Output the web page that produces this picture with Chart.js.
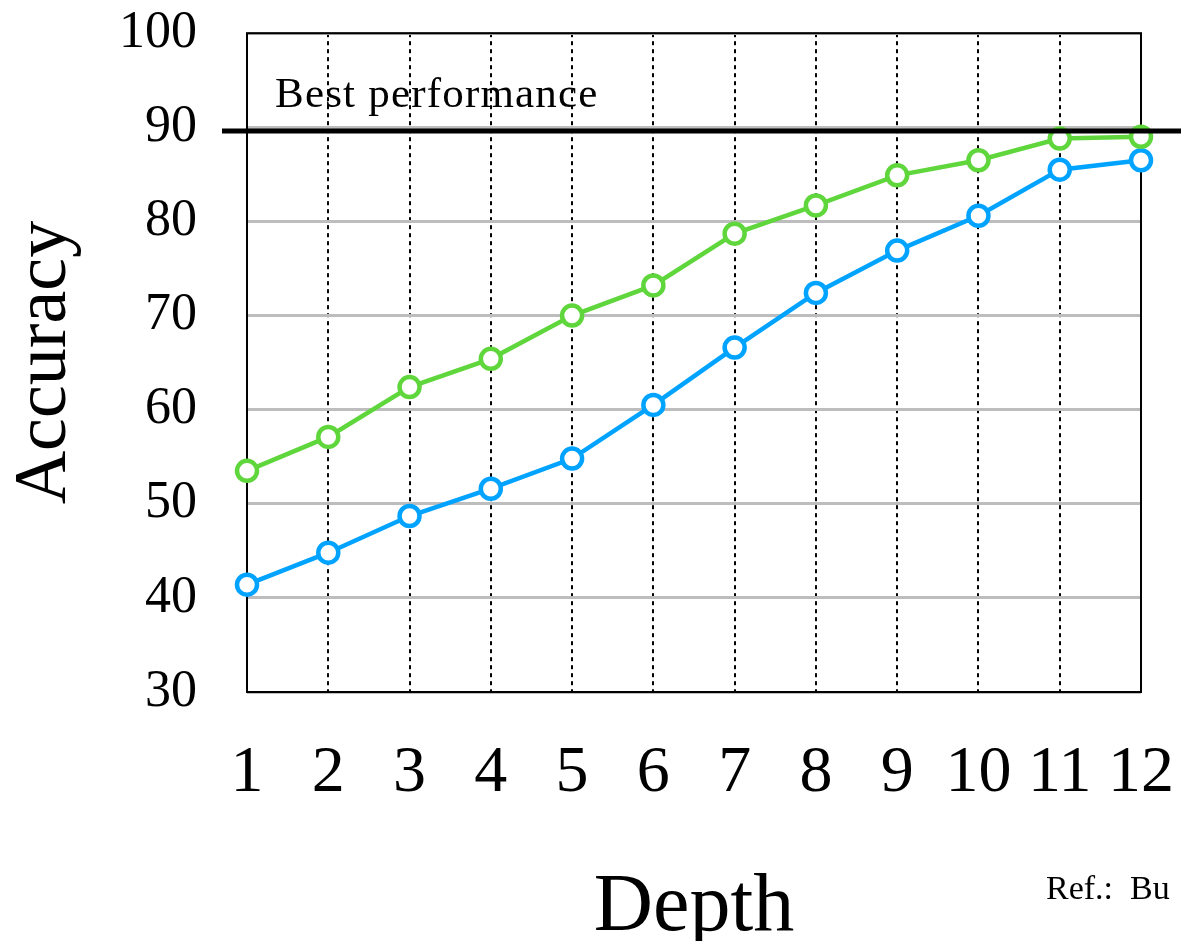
<!DOCTYPE html>
<html>
<head>
<meta charset="utf-8">
<script src="https://cdn.jsdelivr.net/npm/chart.js@4.4.1/dist/chart.umd.min.js"></script>
<style>
  html, body { margin: 0; padding: 0; background: #fff; }
  #wrap { width: 1181px; height: 941px; position: relative; }
</style>
</head>
<body>
<div id="wrap"><canvas id="accChart"></canvas></div>
<script>
// --- data ---
const DEPTHS = ["1", "2", "3", "4", "5", "6", "7", "8", "9", "10", "11", "12"];
const GREEN_ACC = [53.5, 57.1, 62.4, 65.4, 70.0, 73.2, 78.7, 81.7, 84.9, 86.5, 88.8, 89.0];
const BLUE_ACC = [41.4, 44.8, 48.7, 51.6, 54.8, 60.5, 66.6, 72.4, 76.9, 80.6, 85.5, 86.5];
const BEST_VALUE = 89.6;
const BEST_LABEL = "Best performance";
const REF_TEXT = "Ref.:  Bu";
const Y_MIN = 30, Y_MAX = 100, Y_STEP = 10;

const SERIF = "'Liberation Serif', 'Times New Roman', serif";
const GREEN = "#5fd63b";
const BLUE = "#00a3ff";

// frame + best line + labels
const decorPlugin = {
  id: "decor",
  beforeDraw(chart) {
    const { ctx, chartArea, scales } = chart;
    const y = scales.y.getPixelForValue(BEST_VALUE);
    ctx.save();
    ctx.fillStyle = "#000";
    ctx.font = "43px " + SERIF;
    ctx.letterSpacing = "1.2px";
    ctx.textBaseline = "alphabetic";
    ctx.fillText(BEST_LABEL, chartArea.left + 28, y - 24);
    ctx.letterSpacing = "0px";
    ctx.font = "34px " + SERIF;
    ctx.fillText(REF_TEXT, 1046, 899);
    ctx.restore();
  },
  beforeDatasetsDraw(chart) {
    const { ctx, chartArea: a } = chart;
    ctx.save();
    ctx.strokeStyle = "#000";
    ctx.lineWidth = 2;
    ctx.strokeRect(a.left, a.top, a.right - a.left, a.bottom - a.top);
    ctx.restore();
  },
  afterDatasetsDraw(chart) {
    const { ctx, scales } = chart;
    const y = scales.y.getPixelForValue(BEST_VALUE);
    ctx.save();
    ctx.strokeStyle = "#000";
    ctx.lineWidth = 5;
    ctx.beginPath();
    ctx.moveTo(222, y);
    ctx.lineTo(chart.width, y);
    ctx.stroke();
    ctx.restore();
  }
};

const pointStyle = (color) => ({
  borderColor: color,
  backgroundColor: "#fff",
  borderWidth: 4.5,
  pointRadius: 10,
  pointBorderWidth: 4.5,
  pointBackgroundColor: "#fff",
  pointBorderColor: color,
  tension: 0,
  clip: false
});

new Chart(document.getElementById("accChart"), {
  type: "line",
  data: {
    labels: DEPTHS,
    datasets: [
      { label: "green", data: GREEN_ACC, ...pointStyle(GREEN) },
      { label: "blue", data: BLUE_ACC, ...pointStyle(BLUE) }
    ]
  },
  options: {
    responsive: true,
    maintainAspectRatio: false,
    animation: false,
    layout: { padding: { left: 0, top: 33, right: 40, bottom: 0 } },
    plugins: { legend: { display: false }, tooltip: { enabled: false } },
    scales: {
      x: {
        type: "category",
        offset: false,
        grid: { color: "#000", lineWidth: 2, drawTicks: true, tickLength: 40, tickColor: "transparent", offset: false },
        border: { display: false, dash: [4, 4] },
        ticks: { color: "#000", font: { family: SERIF, size: 66 }, padding: 2, maxRotation: 0, autoSkip: false },
        title: { display: true, text: "Depth", color: "#000", font: { family: SERIF, size: 82, lineHeight: 0.8 }, padding: 0 },
        afterFit: (s) => { s.height = 941 - 692; }
      },
      y: {
        min: Y_MIN,
        max: Y_MAX,
        grid: { color: "#bdbdbd", lineWidth: 3, drawTicks: true, tickLength: 48, tickColor: "transparent" },
        border: { display: false },
        ticks: { stepSize: Y_STEP, color: "#000", font: { family: SERIF, size: 52 }, padding: 2 },
        title: { display: true, text: "Accuracy", color: "#000", font: { family: SERIF, size: 74, lineHeight: 1.24 }, padding: 0 },
        afterFit: (s) => { s.width = 247; }
      }
    }
  },
  plugins: [decorPlugin]
});
</script>
</body>
</html>
